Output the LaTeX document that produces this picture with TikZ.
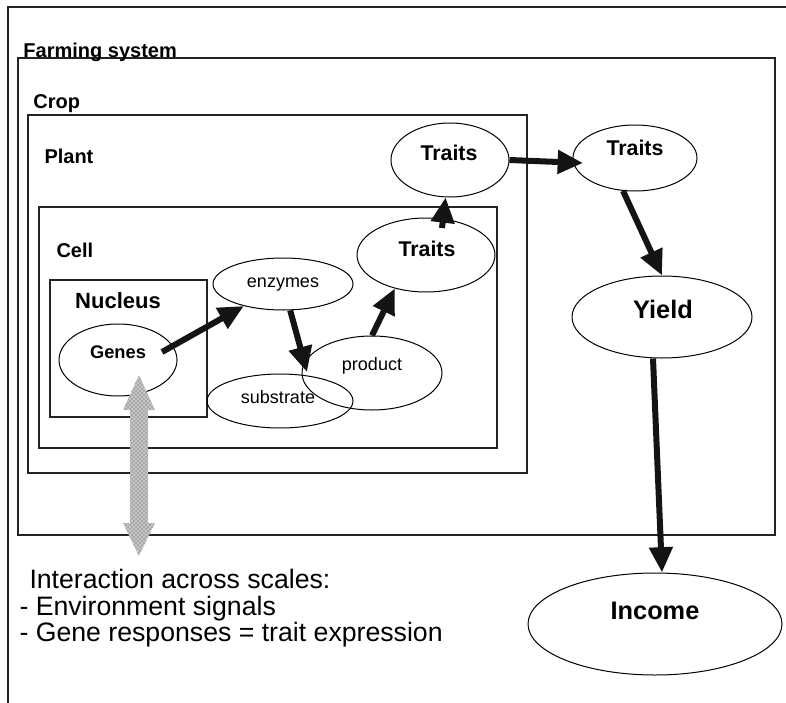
\documentclass[tikz,border=0pt]{standalone}
\usepackage{fontspec}
\setmainfont{Liberation Sans}
\usetikzlibrary{shapes.geometric,arrows.meta,calc,patterns}

\tikzset{every picture/.style={line width=0.75pt}}
\tikzset{
  oval/.style={draw, ellipse, inner sep=0pt, line width=0.75pt},
  frame/.style={line width=1.1pt, color={rgb, 255:red, 35; green, 35; blue, 35}},
  flow/.style={line width=4.5pt, color={rgb, 255:red, 20; green, 20; blue, 20}, -{Triangle[length=19pt,width=17pt]}},
  grain/.style={preaction={fill=gray!45}, pattern=crosshatch dots, pattern color=gray!55!black},
  scalelbl/.style={anchor=base west, inner sep=0.75pt, font=\fontsize{15}{18}\selectfont\bfseries},
  nuclbl/.style={anchor=base, inner sep=0.75pt, font=\fontsize{16.5}{19}\selectfont\bfseries},
  genelbl/.style={anchor=base, inner sep=0.75pt, font=\fontsize{13.7}{16}\selectfont\bfseries},
  smalllbl/.style={anchor=base, inner sep=0.75pt, font=\fontsize{13.5}{16}\selectfont},
  traitlbl/.style={anchor=base, inner sep=0.75pt, font=\fontsize{16}{19}\selectfont\bfseries},
  biglbl/.style={anchor=base, inner sep=0.75pt, font=\fontsize{19}{22}\selectfont\bfseries},
  notelbl/.style={anchor=base west, inner sep=0.75pt, font=\fontsize{20}{24}\selectfont}
}

\begin{document}
\begin{tikzpicture}[x=0.75pt,y=0.75pt,yscale=-1,xscale=1]
\useasboundingbox (0,0) rectangle (786,703);

%Shape: Frame [outer]
\draw[frame] (8,703) -- (8,7) -- (786,7);
%Shape: Rectangle [farming system]
\draw[frame] (18,58) -- (775,58) -- (775,535) -- (18,535) -- cycle ;
%Shape: Rectangle [crop]
\draw[frame] (28,115) -- (527,115) -- (527,473) -- (28,473) -- cycle ;
%Shape: Rectangle [cell]
\draw[frame] (39,207) -- (497,207) -- (497,448) -- (39,448) -- cycle ;
%Shape: Rectangle [nucleus]
\draw[frame] (50,280) -- (207,280) -- (207,417) -- (50,417) -- cycle ;

%Shape: Ellipse
\node[oval, minimum width=88.5pt, minimum height=54pt] (genes) at (118,360) {};
\node[oval, minimum width=105pt, minimum height=39pt] (enzymes) at (283,284) {};
\node[oval, minimum width=109.5pt, minimum height=40.5pt] (substrate) at (280,401) {};
\node[oval, minimum width=105pt, minimum height=55.5pt] (product) at (372,373) {};
\node[oval, minimum width=103.5pt, minimum height=55.5pt] (cellt) at (426,255) {};
\node[oval, minimum width=88.5pt, minimum height=55.5pt] (plantt) at (450,160) {};
\node[oval, minimum width=93pt, minimum height=49.5pt] (cropt) at (635,158) {};
\node[oval, minimum width=135pt, minimum height=61.5pt] (yield) at (662,317) {};
\node[oval, minimum width=190.5pt, minimum height=76.5pt] (income) at (655,624) {};

%Shape: Double Arrow [interaction across scales]
\path[grain] (139,375) -- (155,410) -- (148,410) -- (148,523) -- (155,523) -- (139,556) -- (123,523) -- (130,523) -- (130,410) -- (123,410) -- cycle ;

%Straight Lines
\draw[flow] ($(genes)+(44,-8)$) -- (enzymes);
\draw[flow] (enzymes) -- ($(substrate)+(27,-29)$);
\draw[flow] (product.north) -- (cellt.227);
\draw[flow] ($(cellt)+(16,-27)$) -- (plantt);
\draw[flow] (plantt.east) -- ($(cropt)+(-52,5)$);
\draw[flow] (cropt.250) -- (yield.north);
\draw[flow] ($(yield.south)+(-9,0)$) -- ($(income.north)+(7,0)$);

% Text Node
\node[scalelbl] (farmlbl) at (22,57) {Farming system};
% Text Node
\node[scalelbl] (croplbl) at (32,108) {Crop};
% Text Node
\node[scalelbl] (plantlbl) at (43,163) {Plant};
% Text Node
\node[scalelbl] (celllbl) at (55,257) {Cell};
% Text Node
\node[nuclbl] (nuclbl) at (118,308) {Nucleus};
% Text Node
\node[genelbl] (geneslbl) at (118,358) {Genes};
% Text Node
\node[smalllbl] (enzlbl) at (283,287) {enzymes};
% Text Node
\node[smalllbl] (sublbl) at (278,403) {substrate};
% Text Node
\node[smalllbl] (prodlbl) at (372,370) {product};
% Text Node
\node[traitlbl] (celltlbl) at (427,256) {Traits};
% Text Node
\node[traitlbl] (planttlbl) at (449,160) {Traits};
% Text Node
\node[traitlbl] (croptlbl) at (635,155) {Traits};
% Text Node
\node[biglbl] (yieldlbl) at (663,318) {Yield};
% Text Node
\node[biglbl] (incomelbl) at (655,619) {Income};
% Text Node
\node[notelbl] (note1) at (28,588) {Interaction across scales:};
% Text Node
\node[notelbl] (note2) at (18,615) {- Environment signals};
% Text Node
\node[notelbl] (note3) at (18,641) {- Gene responses = trait expression};

\end{tikzpicture}
\end{document}
